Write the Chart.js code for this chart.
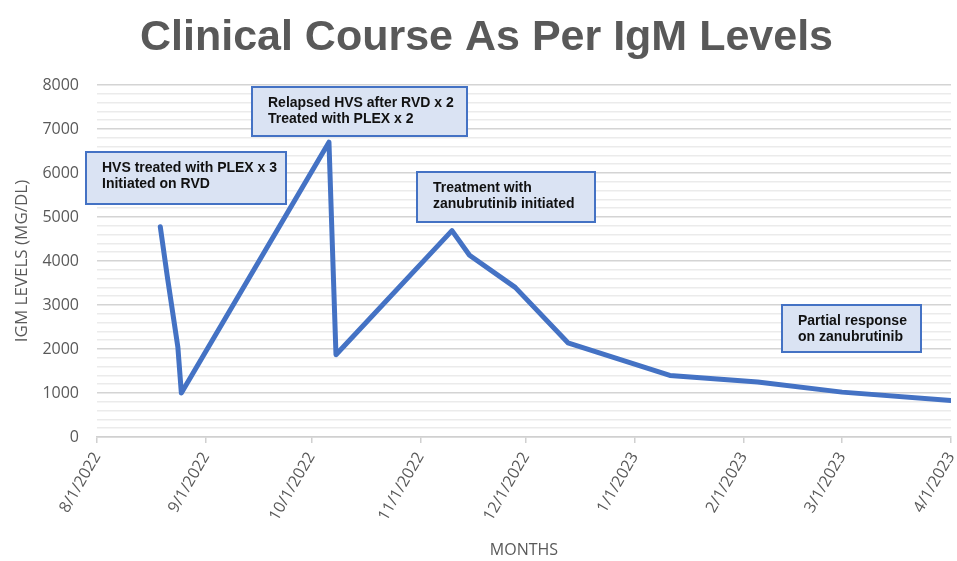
<!DOCTYPE html>
<html>
<head>
<meta charset="utf-8">
<title>Clinical Course As Per IgM Levels</title>
<script src="https://cdn.jsdelivr.net/npm/chart.js@4.4.1/dist/chart.umd.min.js"></script>
<style>
    html, body { margin: 0; padding: 0; background: #fff; }
    #wrap { width: 957px; height: 561px; }
</style>
</head>
<body>
<div id="wrap"><canvas id="igmChart" width="957" height="561"></canvas></div>
<script>
// Data
const sampleDates = ['2022-08-19', '2022-08-21', '2022-08-24', '2022-08-25', '2022-10-06', '2022-10-08',
    '2022-11-10', '2022-11-15', '2022-11-28', '2022-12-13', '2023-01-11', '2023-02-05', '2023-03-01', '2023-04-01'];
const igmLevels = [4780, 3650, 2050, 1000, 6700, 1870, 4690, 4130, 3400, 2140, 1400, 1250, 1020, 830];

const monthTicks = ['2022-08-01', '2022-09-01', '2022-10-01', '2022-11-01', '2022-12-01',
    '2023-01-01', '2023-02-01', '2023-03-01', '2023-04-01'];
const monthLabels = ['8/1/2022', '9/1/2022', '10/1/2022', '11/1/2022', '12/1/2022',
    '1/1/2023', '2/1/2023', '3/1/2023', '4/1/2023'];

const yMajorStep = 1000;
const yMinorStep = 200;
const yMax = 8000;

const noteTexts = [
    ['HVS treated with PLEX x 3', 'Initiated on RVD'],
    ['Relapsed HVS after RVD x 2', 'Treated with PLEX x 2'],
    ['Treatment with', 'zanubrutinib initiated'],
    ['Partial response', 'on zanubrutinib']
];

// Where the note boxes sit (top-left corner in data space, size in px)
const notePlacement = [
    { date: '2022-07-29', level: 6480, w: 200, h: 52 },
    { date: '2022-09-14', level: 7950, w: 215, h: 49 },
    { date: '2022-10-31', level: 6020, w: 178, h: 50 },
    { date: '2023-02-12', level: 3000, w: 139, h: 47 }
];

const toTime = d => Date.parse(d);

// Title drawn by hand so it can sit where the original had it
const titlePlugin = {
    id: 'pageTitle',
    afterDraw(chart) {
        const ctx = chart.ctx;
        ctx.save();
        ctx.font = 'bold 43px "Liberation Sans", Arial, sans-serif';
        ctx.fillStyle = '#595959';
        ctx.textAlign = 'center';
        ctx.textBaseline = 'alphabetic';
        ctx.fillText('Clinical Course As Per IgM Levels', chart.width / 2 + 8, 50);
        ctx.restore();
    }
};

// Callout boxes
const notesPlugin = {
    id: 'notes',
    afterDatasetsDraw(chart) {
        const ctx = chart.ctx;
        const xs = chart.scales.x;
        const ys = chart.scales.y;
        ctx.save();
        notePlacement.forEach((p, i) => {
            const left = Math.round(xs.getPixelForValue(toTime(p.date)));
            const top = Math.round(ys.getPixelForValue(p.level));
            ctx.fillStyle = '#dae3f3';
            ctx.fillRect(left, top, p.w, p.h);
            ctx.strokeStyle = '#4472c4';
            ctx.lineWidth = 2;
            ctx.strokeRect(left, top, p.w, p.h);
            ctx.fillStyle = '#111';
            ctx.font = 'bold 14px "Liberation Sans", Arial, sans-serif';
            ctx.textAlign = 'left';
            ctx.textBaseline = 'middle';
            noteTexts[i].forEach((line, j) => {
                ctx.fillText(line, left + 16, top + 16 + j * 16);
            });
        });
        ctx.restore();
    }
};

new Chart(document.getElementById('igmChart'), {
    type: 'line',
    data: {
        datasets: [{
            label: 'IgM',
            data: sampleDates.map((d, i) => ({ x: toTime(d), y: igmLevels[i] })),
            borderColor: '#4472c4',
            borderWidth: 5,
            borderCapStyle: 'round',
            borderJoinStyle: 'round',
            pointRadius: 0,
            tension: 0,
            fill: false
        }]
    },
    options: {
        responsive: false,
        animation: false,
        layout: { padding: { top: 85, right: 6, left: 0, bottom: 0 } },
        plugins: {
            legend: { display: false },
            title: { display: false },
            tooltip: { enabled: false }
        },
        scales: {
            x: {
                type: 'linear',
                min: toTime(monthTicks[0]),
                max: toTime(monthTicks[monthTicks.length - 1]),
                afterBuildTicks: scale => {
                    scale.ticks = monthTicks.map(d => ({ value: toTime(d) }));
                },
                afterFit: scale => {
                    scale.height = 124;
                    scale.paddingRight = 0;
                },
                ticks: {
                    autoSkip: false,
                    minRotation: 60,
                    maxRotation: 60,
                    padding: 6,
                    color: '#595959',
                    font: { family: '"Open Sans", sans-serif', size: 16 },
                    callback: (value, index) => monthLabels[index]
                },
                grid: {
                    drawOnChartArea: false,
                    drawTicks: true,
                    tickLength: 6,
                    color: '#d0d0d0',
                    lineWidth: 1.5
                },
                border: { display: true, color: '#d0d0d0', width: 1.5 },
                title: {
                    display: true,
                    text: 'MONTHS',
                    color: '#595959',
                    font: { family: '"Open Sans", sans-serif', size: 16 },
                    padding: { top: 0, bottom: 1 }
                }
            },
            y: {
                min: 0,
                max: yMax,
                afterBuildTicks: scale => {
                    const ticks = [];
                    for (let v = 0; v <= yMax; v += yMinorStep) ticks.push({ value: v });
                    scale.ticks = ticks;
                },
                afterFit: scale => { scale.width = 97; },
                ticks: {
                    autoSkip: false,
                    padding: 18,
                    color: '#595959',
                    font: { family: '"Open Sans", sans-serif', size: 16 },
                    callback: value => (value % yMajorStep === 0 ? String(value) : '')
                },
                grid: {
                    drawTicks: false,
                    color: ctx => (ctx.tick && ctx.tick.value % yMajorStep === 0 ? '#d4d4d4' : '#ebebeb'),
                    lineWidth: 1.5
                },
                border: { display: false },
                title: {
                    display: true,
                    text: 'IGM LEVELS (MG/DL)',
                    color: '#595959',
                    font: { family: '"Open Sans", sans-serif', size: 17 },
                    padding: { top: 12, bottom: 0 }
                }
            }
        }
    },
    plugins: [titlePlugin, notesPlugin]
});
</script>
</body>
</html>
